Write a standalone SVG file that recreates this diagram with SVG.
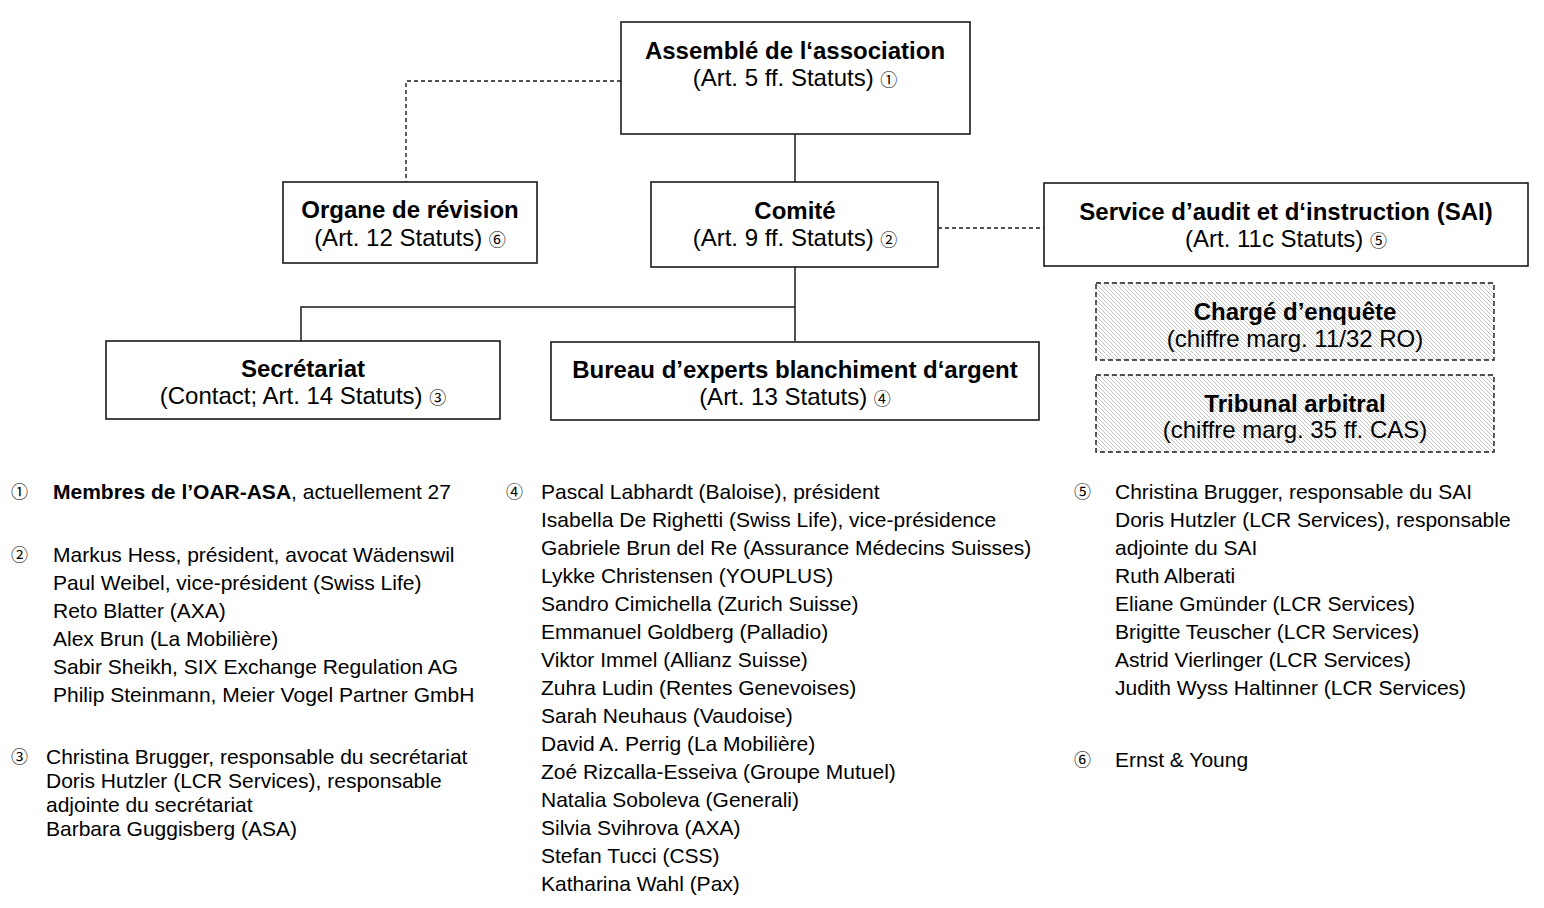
<svg xmlns="http://www.w3.org/2000/svg" width="1544" height="908" viewBox="0 0 1544 908">
<style>
  text { font-family: "Liberation Sans", Arial, "DejaVu Sans", sans-serif; fill: #000; }
  .h { font-size: 24px; font-weight: bold; text-anchor: middle; }
  .s { font-size: 24px; text-anchor: middle; }
  .n { font-size: 21px; }
  .c { font-size: 17px; font-weight: normal; font-family: "Noto Sans CJK SC", "DejaVu Sans", sans-serif; }
  .box { fill: #fff; stroke: #1a1a1a; stroke-width: 1.6; }
  .hbox { fill: url(#hatch); stroke: #1a1a1a; stroke-width: 1.4; stroke-dasharray: 5 3; }
  .solid { fill: none; stroke: #1a1a1a; stroke-width: 1.5; }
  .dash { fill: none; stroke: #1a1a1a; stroke-width: 1.4; stroke-dasharray: 4 3; }
</style>
<defs>
  <pattern id="hatch" patternUnits="userSpaceOnUse" width="4" height="4">
    <rect width="4" height="4" fill="#fff"/>
    <path d="M-1,-1 L5,5 M-1,3 L1,5 M3,-1 L5,1" stroke="#b8b8b8" stroke-width="0.8"/>
  </pattern>
</defs>
<rect width="1544" height="908" fill="#fff"/>

<g id="connectors">
  <path class="dash" d="M621,81 H406 V182"/>
  <path class="solid" d="M795,134 V182"/>
  <path class="dash" d="M938,228 H1044"/>
  <path class="solid" d="M795,267 V341"/>
  <path class="solid" d="M795,307 H301 V341"/>
</g>

<g id="assemblee">
  <rect class="box" x="621" y="22" width="349" height="112"/>
  <text class="h" x="795" y="58.5">Assemblé de l‘association</text>
  <text class="s" x="795" y="86">(Art. 5 ff. Statuts) <tspan class="c">①</tspan></text>
</g>

<g id="organe">
  <rect class="box" x="283" y="182" width="254" height="81"/>
  <text class="h" x="410" y="217.5">Organe de révision</text>
  <text class="s" x="410" y="245.5">(Art. 12 Statuts) <tspan class="c">⑥</tspan></text>
</g>

<g id="comite">
  <rect class="box" x="651" y="182" width="287" height="85"/>
  <text class="h" x="795" y="218.5">Comité</text>
  <text class="s" x="795" y="245.5">(Art. 9 ff. Statuts) <tspan class="c">②</tspan></text>
</g>

<g id="sai">
  <rect class="box" x="1044" y="183" width="484" height="83"/>
  <text class="h" x="1286" y="219.5">Service d’audit et d‘instruction (SAI)</text>
  <text class="s" x="1286" y="246.5">(Art. 11c Statuts) <tspan class="c">⑤</tspan></text>
</g>

<g id="charge">
  <rect class="hbox" x="1096" y="283" width="398" height="77"/>
  <text class="h" x="1295" y="319.5">Chargé d’enquête</text>
  <text class="s" x="1295" y="347">(chiffre marg. 11/32 RO)</text>
</g>

<g id="tribunal">
  <rect class="hbox" x="1096" y="375" width="398" height="77"/>
  <text class="h" x="1295" y="411.5">Tribunal arbitral</text>
  <text class="s" x="1295" y="438">(chiffre marg. 35 ff. CAS)</text>
</g>

<g id="secretariat">
  <rect class="box" x="106" y="341" width="394" height="78"/>
  <text class="h" x="303" y="376.5">Secrétariat</text>
  <text class="s" x="303" y="404">(Contact; Art. 14 Statuts) <tspan class="c">③</tspan></text>
</g>

<g id="bureau">
  <rect class="box" x="551" y="342" width="488" height="78"/>
  <text class="h" x="795" y="377.5">Bureau d’experts blanchiment d‘argent</text>
  <text class="s" x="795" y="405">(Art. 13 Statuts) <tspan class="c">④</tspan></text>
</g>

<g id="notes-1">
  <text class="c" x="11" y="498">①</text>
  <text class="n" x="53" y="498.5"><tspan font-weight="bold">Membres de l’OAR-ASA</tspan>, actuellement 27</text>
</g>

<g id="notes-2">
  <text class="c" x="11" y="561">②</text>
  <text class="n" x="53" y="562">Markus Hess, président, avocat Wädenswil</text>
  <text class="n" x="53" y="590">Paul Weibel, vice-président (Swiss Life)</text>
  <text class="n" x="53" y="618">Reto Blatter (AXA)</text>
  <text class="n" x="53" y="646">Alex Brun (La Mobilière)</text>
  <text class="n" x="53" y="674">Sabir Sheikh, SIX Exchange Regulation AG</text>
  <text class="n" x="53" y="702">Philip Steinmann, Meier Vogel Partner GmbH</text>
</g>

<g id="notes-3">
  <text class="c" x="11" y="763">③</text>
  <text class="n" x="46" y="764">Christina Brugger, responsable du secrétariat</text>
  <text class="n" x="46" y="788">Doris Hutzler (LCR Services), responsable</text>
  <text class="n" x="46" y="812">adjointe du secrétariat</text>
  <text class="n" x="46" y="836">Barbara Guggisberg (ASA)</text>
</g>

<g id="notes-4">
  <text class="c" x="506" y="498">④</text>
  <text class="n" x="541" y="498.5">Pascal Labhardt (Baloise), président</text>
  <text class="n" x="541" y="526.5">Isabella De Righetti (Swiss Life), vice-présidence</text>
  <text class="n" x="541" y="554.5">Gabriele Brun del Re (Assurance Médecins Suisses)</text>
  <text class="n" x="541" y="582.5">Lykke Christensen (YOUPLUS)</text>
  <text class="n" x="541" y="610.5">Sandro Cimichella (Zurich Suisse)</text>
  <text class="n" x="541" y="638.5">Emmanuel Goldberg (Palladio)</text>
  <text class="n" x="541" y="666.5">Viktor Immel (Allianz Suisse)</text>
  <text class="n" x="541" y="694.5">Zuhra Ludin (Rentes Genevoises)</text>
  <text class="n" x="541" y="722.5">Sarah Neuhaus (Vaudoise)</text>
  <text class="n" x="541" y="750.5">David A. Perrig (La Mobilière)</text>
  <text class="n" x="541" y="778.5">Zoé Rizcalla-Esseiva (Groupe Mutuel)</text>
  <text class="n" x="541" y="806.5">Natalia Soboleva (Generali)</text>
  <text class="n" x="541" y="834.5">Silvia Svihrova (AXA)</text>
  <text class="n" x="541" y="862.5">Stefan Tucci (CSS)</text>
  <text class="n" x="541" y="890.5">Katharina Wahl (Pax)</text>
</g>

<g id="notes-5">
  <text class="c" x="1074" y="498">⑤</text>
  <text class="n" x="1115" y="498.5">Christina Brugger, responsable du SAI</text>
  <text class="n" x="1115" y="526.5">Doris Hutzler (LCR Services), responsable</text>
  <text class="n" x="1115" y="554.5">adjointe du SAI</text>
  <text class="n" x="1115" y="582.5">Ruth Alberati</text>
  <text class="n" x="1115" y="610.5">Eliane Gmünder (LCR Services)</text>
  <text class="n" x="1115" y="638.5">Brigitte Teuscher (LCR Services)</text>
  <text class="n" x="1115" y="666.5">Astrid Vierlinger (LCR Services)</text>
  <text class="n" x="1115" y="694.5">Judith Wyss Haltinner (LCR Services)</text>
</g>

<g id="notes-6">
  <text class="c" x="1074" y="766">⑥</text>
  <text class="n" x="1115" y="766.5">Ernst &amp; Young</text>
</g>
</svg>
